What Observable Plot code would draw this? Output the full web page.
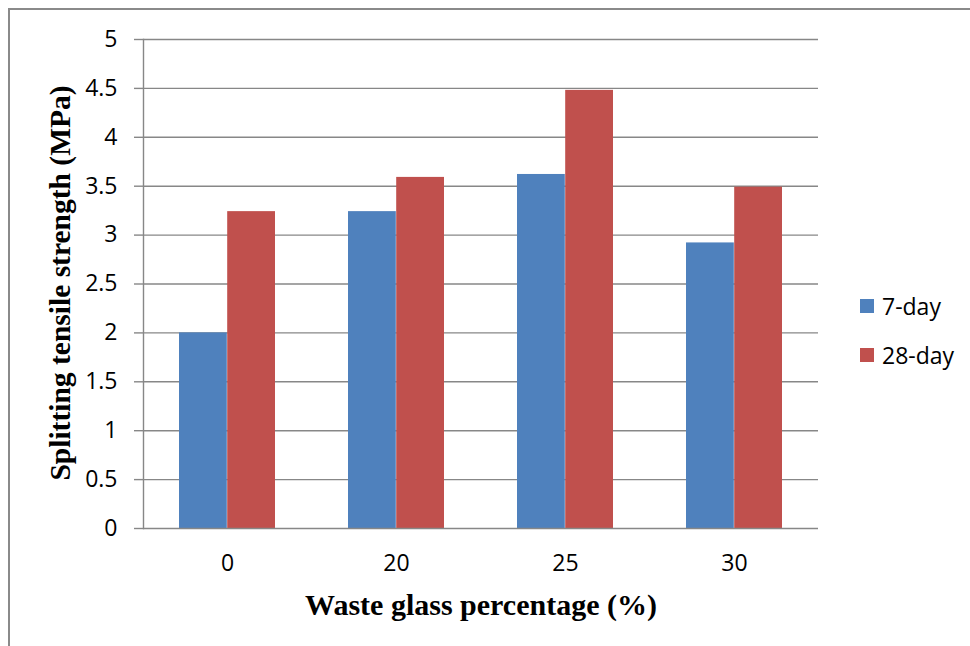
<!DOCTYPE html>
<html>
<head>
<meta charset="utf-8">
<script src="https://cdn.jsdelivr.net/npm/d3@7"></script>
<script src="https://cdn.jsdelivr.net/npm/@observablehq/plot@0.6"></script>
<style>
  html, body { margin: 0; padding: 0; background: #fff; }
  #wrap { position: relative; width: 970px; height: 646px; overflow: hidden; }
  #border { position: absolute; left: 8px; top: 8px; right: -10px; bottom: -10px;
            border-left: 2px solid #8a8a8a; border-top: 2px solid #8a8a8a; }
  #chart { position: absolute; left: 0; top: 0; }
  .legend { position: absolute; left: 860px; font-family: "Open Sans", sans-serif; font-size: 23px; color: #000; }
  .legend .item { position: absolute; white-space: nowrap; display: flex; align-items: center; height: 30px; }
  .legend .sw { width: 14px; height: 14px; margin-right: 8px; display: inline-block; }
</style>
</head>
<body>
<div id="wrap">
  <div id="border"></div>
  <div id="chart"></div>
  <div class="legend" id="legend"></div>
</div>
<script>
const categories = ["0", "20", "25", "30"];
const seriesNames = ["7-day", "28-day"];
const day7 = [2.00, 3.24, 3.62, 2.92];
const day28 = [3.24, 3.59, 4.48, 3.49];
const yTicks = [0, 0.5, 1, 1.5, 2, 2.5, 3, 3.5, 4, 4.5, 5];
const yTickLabels = ["0", "0.5", "1", "1.5", "2", "2.5", "3", "3.5", "4", "4.5", "5"];
const colors = ["#4F81BD", "#C0504D"];
const xTitle = "Waste glass percentage (%)";
const yTitle = "Splitting tensile strength (MPa)";

const data = categories.flatMap((c, i) => [
  {cat: c, series: seriesNames[0], value: day7[i]},
  {cat: c, series: seriesNames[1], value: day28[i]}
]);

const grid = "#878787";

const chart = Plot.plot({
  width: 970,
  height: 646,
  marginLeft: 143,
  marginRight: 152,
  marginTop: 39,
  marginBottom: 118,
  style: {fontFamily: "'Open Sans', sans-serif", fontSize: "23px", background: "transparent", overflow: "visible"},
  x: {domain: categories, paddingInner: 0.43, paddingOuter: 0.21, label: null},
  y: {domain: [0, 5], label: null},
  marks: [
    Plot.ruleY(yTicks.slice(1), {stroke: grid, strokeWidth: 1.4}),
    Plot.barY(data.filter(d => d.series === seriesNames[0]), {x: "cat", y: "value", fill: colors[0], insetRight: 48.2}),
    Plot.barY(data.filter(d => d.series === seriesNames[1]), {x: "cat", y: "value", fill: colors[1], insetLeft: 48.2}),
    Plot.ruleY([0], {stroke: grid, strokeWidth: 1.4}),
    Plot.frame({anchor: "left", stroke: grid, strokeWidth: 1.4}),
    Plot.axisY(yTicks, {tickSize: 9, tickPadding: 17, stroke: grid, strokeWidth: 1.4, fill: "#000",
      tickFormat: (d) => yTickLabels[yTicks.indexOf(d)], label: null}),
    Plot.axisX({tickSize: 0, tickPadding: 26, fill: "#000", label: null}),
    Plot.text([xTitle], {frameAnchor: "bottom", dy: 86, lineAnchor: "bottom", text: d => d,
      fontFamily: "'Liberation Serif', 'Times New Roman', serif", fontWeight: "bold", fontSize: 30, fill: "#000"}),
    Plot.text([yTitle], {frameAnchor: "left", dx: -74, dy: -1, rotate: -90, textAnchor: "middle", lineAnchor: "bottom", text: d => d,
      fontFamily: "'Liberation Serif', 'Times New Roman', serif", fontWeight: "bold", fontSize: 29.5, fill: "#000"})
  ]
});
document.getElementById("chart").appendChild(chart);

const legend = document.getElementById("legend");
const legendTops = [291, 340];
seriesNames.forEach((name, i) => {
  const item = document.createElement("div");
  item.className = "item";
  item.style.top = legendTops[i] + "px";
  const sw = document.createElement("span");
  sw.className = "sw";
  sw.style.background = colors[i];
  const label = document.createElement("span");
  label.textContent = name;
  item.appendChild(sw);
  item.appendChild(label);
  legend.appendChild(item);
});
</script>
</body>
</html>
